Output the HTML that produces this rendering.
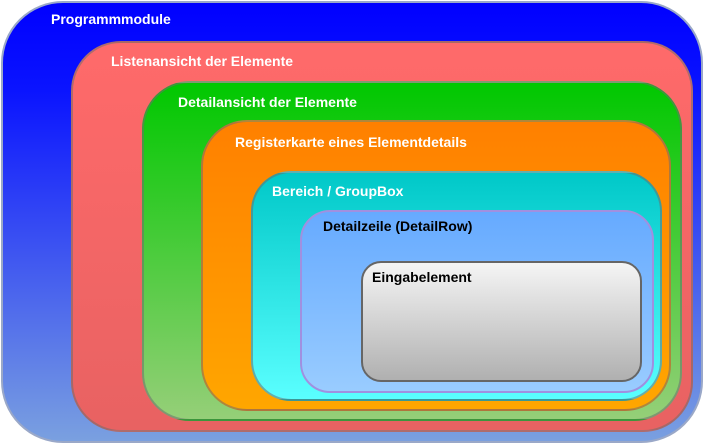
<!DOCTYPE html>
<html><head><style>
body{margin:0;width:704px;height:445px;background:#fff;position:relative;overflow:hidden;font-family:"Liberation Sans",sans-serif;font-weight:bold;font-size:14px}
.b{position:absolute;box-sizing:border-box;border:2px solid rgba(110,110,110,.55)}
.t{position:absolute;white-space:nowrap}
</style></head><body>
<div class="b" style="left:1px;top:1px;width:702px;height:442px;border-radius:62px;background:linear-gradient(#0000ff,#0a14ff 20%,#7aa0e0);border-color:#9aa8c8"></div>
<div class="b" style="left:71px;top:41px;width:622px;height:391px;border-radius:50px;background:linear-gradient(#ff6a6a,#e86262)"></div>
<div class="b" style="left:142px;top:81px;width:540px;height:340px;border-radius:48px;background:linear-gradient(#00c800,#95cf78)"></div>
<div class="b" style="left:201px;top:120px;width:470px;height:291px;border-radius:46px;background:linear-gradient(#ff8000,#ffa600)"></div>
<div class="b" style="left:251px;top:171px;width:411px;height:230px;border-radius:40px;background:linear-gradient(#00c8c8,#5affff)"></div>
<div class="b" style="left:300px;top:210px;width:354px;height:183px;border-radius:30px;background:linear-gradient(#66aaff,#99ccff);border-color:#a090e0"></div>
<div class="b" style="left:361px;top:261px;width:281px;height:121px;border-radius:20px;background:linear-gradient(#f5f5f5,#b0b0b0);border-color:#666"></div>
<div class="t" style="left:51px;top:11px;color:#fff">Programmmodule</div>
<div class="t" style="left:111px;top:53px;color:#fff">Listenansicht der Elemente</div>
<div class="t" style="left:178px;top:94px;color:#fff">Detailansicht der Elemente</div>
<div class="t" style="left:235px;top:134px;color:#fff">Registerkarte eines Elementdetails</div>
<div class="t" style="left:272px;top:183px;color:#fff">Bereich / GroupBox</div>
<div class="t" style="left:323px;top:218px;color:#000">Detailzeile (DetailRow)</div>
<div class="t" style="left:372px;top:269px;color:#000">Eingabelement</div>
</body></html>
